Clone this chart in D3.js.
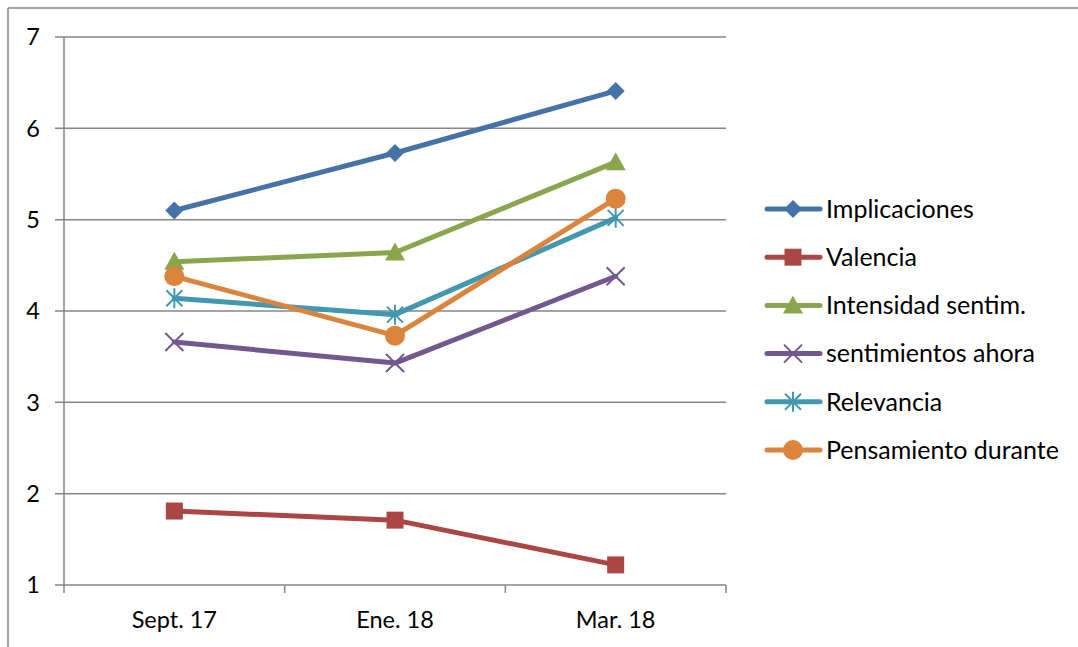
<!DOCTYPE html>
<html><head><meta charset="utf-8">
<script src="https://cdn.jsdelivr.net/npm/d3@7"></script>
<style>body{margin:0;background:#fff}svg{display:block}</style>
</head><body>
<svg id="c" width="1078" height="647"></svg>
<script>
const categories = ["Sept. 17", "Ene. 18", "Mar. 18"];
const seriesNames = ["Implicaciones", "Valencia", "Intensidad sentim.", "sentimientos ahora", "Relevancia", "Pensamiento durante"];
const implicaciones = [5.10, 5.73, 6.41];
const valencia = [1.81, 1.71, 1.22];
const intensidad = [4.54, 4.64, 5.63];
const sentimientos = [3.66, 3.43, 4.38];
const relevancia = [4.14, 3.96, 5.02];
const pensamiento = [4.38, 3.73, 5.23];
const yTicks = [1, 2, 3, 4, 5, 6, 7];

const colors = ["#4572A7", "#AA4643", "#89A54E", "#71588F", "#4198AF", "#DB843D"];
const markers = ["diamond", "square", "triangle", "x", "star", "circle"];
const values = [implicaciones, valencia, intensidad, sentimientos, relevancia, pensamiento];
const series = seriesNames.map((n, i) => ({name: n, values: values[i], color: colors[i], marker: markers[i]}));

const svg = d3.select("#c");
const font = "Lato, 'Open Sans', sans-serif";
const grid = "#868686";

// outer frame
svg.append("line").attr("x1", 8).attr("x2", 8).attr("y1", 8).attr("y2", 647).attr("stroke", grid).attr("stroke-width", 1.5);
svg.append("line").attr("x1", 8).attr("x2", 1078).attr("y1", 8).attr("y2", 8).attr("stroke", grid).attr("stroke-width", 1.5);

const L = 64, R = 726, T = 37, B = 585;
const x = d3.scaleBand().domain(categories).range([L, R]);
const y = d3.scaleLinear().domain([1, 7]).range([B, T]);

// gridlines
svg.append("g").selectAll("line").data(yTicks).join("line")
  .attr("x1", L - 9).attr("x2", R).attr("y1", d => y(d)).attr("y2", d => y(d))
  .attr("stroke", grid).attr("stroke-width", 1.5);
// y axis line
svg.append("line").attr("x1", L).attr("x2", L).attr("y1", T).attr("y2", B).attr("stroke", grid).attr("stroke-width", 1.5);
// y labels
svg.append("g").selectAll("text").data(yTicks).join("text")
  .attr("x", 40).attr("y", d => y(d)).attr("dy", "0.35em").attr("text-anchor", "end")
  .attr("font-family", font).attr("font-size", 23.5).attr("fill", "#000").text(d => d);
// x tick marks at band boundaries
const bounds = categories.map(c => x(c)).concat([R]);
svg.append("g").selectAll("line").data(bounds).join("line")
  .attr("x1", d => d).attr("x2", d => d).attr("y1", B).attr("y2", B + 8)
  .attr("stroke", grid).attr("stroke-width", 1.5);
svg.append("g").selectAll("text").data(categories).join("text")
  .attr("x", d => x(d) + x.bandwidth() / 2).attr("y", 628).attr("text-anchor", "middle")
  .attr("font-family", font).attr("font-size", 23.5).attr("fill", "#000").text(d => d);

function drawMarker(g, type, color, cx, cy) {
  const s = g.append("g").attr("transform", `translate(${cx},${cy})`);
  if (type === "diamond") s.append("path").attr("d", "M0,-9L9,0L0,9L-9,0Z").attr("fill", color);
  else if (type === "square") s.append("rect").attr("x", -8.5).attr("y", -8.5).attr("width", 17).attr("height", 17).attr("fill", color);
  else if (type === "triangle") s.append("path").attr("d", "M0,-10L10,8L-10,8Z").attr("fill", color);
  else if (type === "circle") s.append("circle").attr("r", 10).attr("fill", color);
  else if (type === "x") s.append("path").attr("d", "M-9,-9L9,9M-9,9L9,-9").attr("stroke", color).attr("stroke-width", 2).attr("fill", "none");
  else if (type === "star") s.append("path").attr("d", "M-8,-8L8,8M-8,8L8,-8M0,-10L0,10").attr("stroke", color).attr("stroke-width", 2).attr("fill", "none");
}

const line = d3.line().x((d, i) => x(categories[i]) + x.bandwidth() / 2).y(d => y(d));
series.forEach(s => {
  const g = svg.append("g");
  g.append("path").attr("d", line(s.values)).attr("fill", "none").attr("stroke", s.color)
    .attr("stroke-width", 5).attr("stroke-linejoin", "round").attr("stroke-linecap", "round");
  s.values.forEach((v, i) => drawMarker(g, s.marker, s.color, x(categories[i]) + x.bandwidth() / 2, y(v)));
});

// legend
const ly0 = 209, lstep = 48.2;
series.forEach((s, i) => {
  const g = svg.append("g");
  const cy = ly0 + i * lstep;
  g.append("line").attr("x1", 767).attr("x2", 820).attr("y1", cy).attr("y2", cy)
    .attr("stroke", s.color).attr("stroke-width", 5).attr("stroke-linecap", "round");
  drawMarker(g, s.marker, s.color, 793, cy);
  g.append("text").attr("x", 826).attr("y", cy).attr("dy", "0.35em")
    .attr("font-family", font).attr("font-size", 25).attr("fill", "#000").text(s.name);
});
</script>
</body></html>
